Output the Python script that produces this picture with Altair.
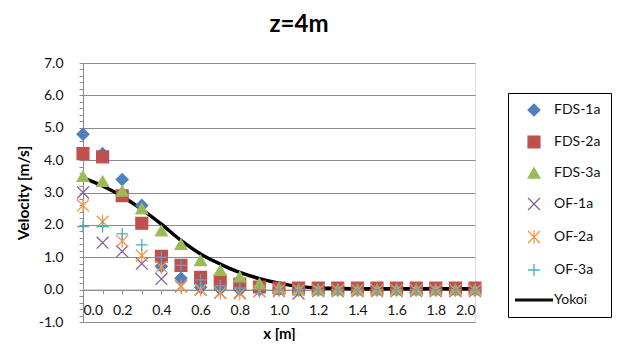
import altair as alt
import pandas as pd

# ---------------- data ----------------
x_vals = [0.0, 0.1, 0.2, 0.3, 0.4, 0.5, 0.6, 0.7, 0.8, 0.9, 1.0,
          1.1, 1.2, 1.3, 1.4, 1.5, 1.6, 1.7, 1.8, 1.9, 2.0]

series_names = ["FDS-1a", "FDS-2a", "FDS-3a", "OF-1a", "OF-2a", "OF-3a", "Yokoi"]

fds1 = [4.80, 4.20, 3.40, 2.60, 0.72, 0.35, 0.07, 0.02, 0.00, 0.00, 0.00,
        0.00, 0.00, 0.00, 0.00, 0.00, 0.00, 0.00, 0.00, 0.00, 0.00]
fds2 = [4.20, 4.10, 2.90, 2.05, 1.03, 0.75, 0.38, 0.27, 0.17, 0.08, 0.05,
        0.05, 0.05, 0.05, 0.05, 0.05, 0.05, 0.05, 0.05, 0.05, 0.05]
fds3 = [3.50, 3.35, 3.05, 2.50, 1.82, 1.40, 0.90, 0.60, 0.40, 0.18, 0.05,
        0.00, 0.00, 0.00, 0.00, 0.00, 0.00, 0.00, 0.00, 0.00, 0.00]
of1 = [3.00, 1.45, 1.18, 0.80, 0.33, 0.10, 0.00, -0.10, -0.10, -0.05, -0.05,
       -0.12, -0.05, -0.05, -0.05, -0.05, -0.05, -0.05, -0.05, -0.05, -0.05]
of2 = [2.60, 2.10, 1.50, 1.05, 0.70, 0.10, 0.00, -0.10, -0.12, -0.05, -0.02,
       -0.02, -0.02, -0.02, -0.02, -0.02, -0.02, -0.02, -0.02, -0.02, -0.02]
of3 = [1.95, 1.95, 1.72, 1.38, 1.00, 0.75, 0.30, 0.12, 0.05, 0.00, 0.00,
       0.00, 0.00, 0.00, 0.00, 0.00, 0.00, 0.00, 0.00, 0.00, 0.00]
yokoi = [3.45, 3.20, 2.88, 2.48, 2.02, 1.52, 1.10, 0.79, 0.53, 0.34, 0.20,
         0.10, 0.05, 0.04, 0.03, 0.03, 0.03, 0.03, 0.03, 0.03, 0.03]

x_ticks = [0.0, 0.1, 0.2, 0.3, 0.4, 0.5, 0.6, 0.7, 0.8, 0.9, 1.0,
           1.1, 1.2, 1.3, 1.4, 1.5, 1.6, 1.7, 1.8, 1.9, 2.0]
y_ticks = [-1.0, -0.8, -0.6, -0.4, -0.2, 0.0, 0.2, 0.4, 0.6, 0.8, 1.0,
           1.2, 1.4, 1.6, 1.8, 2.0, 2.2, 2.4, 2.6, 2.8, 3.0, 3.2, 3.4,
           3.6, 3.8, 4.0, 4.2, 4.4, 4.6, 4.8, 5.0, 5.2, 5.4, 5.6, 5.8,
           6.0, 6.2, 6.4, 6.6, 6.8, 7.0]

# ---------------- styles ----------------
stroke_colors = ["#4F81BD", "#C0504D", "#9BBB59", "#8064A2", "#F79646", "#4BACC6", "#000000"]
fill_colors = ["#4F81BD", "#C0504D", "#9BBB59", "transparent", "transparent", "transparent", "#000000"]
shapes = ["diamond", "square", "triangle-up",
          "M-1,-1L1,1M-1,1L1,-1",
          "M-1,-1L1,1M-1,1L1,-1M0,-1.15L0,1.15",
          "M-1,0L1,0M0,-1L0,1",
          "M-3.1,-0.14L3.1,-0.14L3.1,0.14L-3.1,0.14Z"]

rows = []
for name, vals in zip(series_names[:6], [fds1, fds2, fds3, of1, of2, of3]):
    for xv, yv in zip(x_vals, vals):
        rows.append({"x": xv, "v": yv, "series": name})
pts = pd.DataFrame(rows)
line_df = pd.DataFrame({"x": x_vals, "v": yokoi})

FONT = "Lato"
GRAY = "#8C8C8C"

xscale = alt.Scale(domain=[0, 2], nice=False, zero=False)
yscale = alt.Scale(domain=[-1, 7], nice=False, zero=False)

int_test = "abs(datum.value - round(datum.value)) < 0.001"
even_test = "abs(datum.value*5 - round(datum.value*5)) < 0.001"
fmt = "replace(format(datum.value, '.1f'), '\u2212', '-')"

x_axis = alt.Axis(
    title="x [m]", values=x_ticks,
    labelExpr=f"{even_test} ? {fmt} : ''",
    grid=False, offset=-32.375, domainColor=GRAY, tickColor=GRAY,
    tickSize=4, labelPadding=10, labelFont=FONT, labelFontSize=14,
    labelColor="#111111", titleFont=FONT, titleFontSize=15,
    titleFontWeight="bold", titleColor="#000000", titlePadding=9,
    labelOverlap=False,
)
y_axis = alt.Axis(
    title="Velocity [m/s]", values=y_ticks,
    labelExpr=f"{int_test} ? {fmt} : ''",
    grid=True, gridColor=GRAY, gridWidth=1,
    gridOpacity={"condition": {"test": int_test, "value": 1}, "value": 0},
    domainColor=GRAY, tickColor=GRAY, tickSize=4, labelPadding=16,
    labelFont=FONT, labelFontSize=14, labelColor="#111111",
    titleFont=FONT, titleFontSize=15.5, titleFontWeight="bold",
    titleColor="#000000", titlePadding=7, labelOverlap=False,
)

legend = alt.Legend(
    title=None, orient="none", legendX=425, legendY=30,
    padding=10, strokeColor="#000000", fillColor="white",
    symbolSize=140, symbolStrokeWidth=1.3, symbolOffset=9,
    labelOffset=13, rowPadding=14, labelFont=FONT, labelFontSize=14,
    labelColor="#111111",
)

line = alt.Chart(line_df).mark_line(color="black", strokeWidth=3.5, interpolate="monotone").encode(
    x=alt.X("x:Q", scale=xscale, axis=x_axis),
    y=alt.Y("v:Q", scale=yscale, axis=y_axis),
)

points = alt.Chart(pts).mark_point(size=140, strokeWidth=1.3, opacity=1).encode(
    x=alt.X("x:Q", scale=xscale, axis=x_axis),
    y=alt.Y("v:Q", scale=yscale, axis=y_axis),
    fill=alt.Fill("series:N", scale=alt.Scale(domain=series_names, range=fill_colors), legend=legend),
    stroke=alt.Stroke("series:N", scale=alt.Scale(domain=series_names, range=stroke_colors), legend=legend),
    shape=alt.Shape("series:N", scale=alt.Scale(domain=series_names, range=shapes), legend=legend),
    order=alt.Order("idx:Q"),
).transform_calculate(idx="indexof(" + str(series_names) + ", datum.series)")

chart = alt.layer(line, points).properties(
    width=392, height=259,
    autosize=alt.AutoSizeParams(type="none"),
    padding={"left": 75, "top": 55, "right": 140, "bottom": 19},
    title=alt.TitleParams("z=4m", font=FONT, fontSize=24, fontWeight="bold",
                          anchor="middle", dx=20, offset=19,
                          color="#000000"),
).configure_view(stroke="transparent").configure(background="white")

chart.save("out.html", embed_options={"renderer": "svg", "actions": False})
